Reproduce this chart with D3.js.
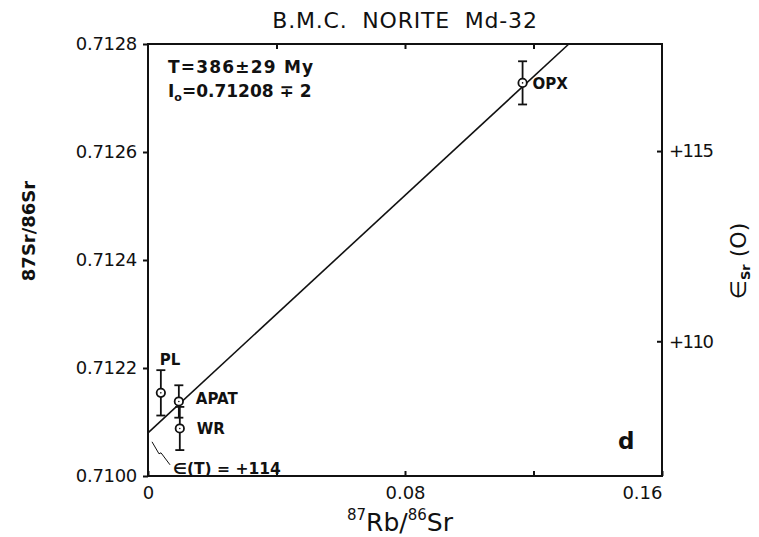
<!DOCTYPE html>
<html>
<head>
<meta charset="utf-8">
<script src="https://cdn.jsdelivr.net/npm/d3@7"></script>
<style>
  html, body { margin: 0; padding: 0; background: #fff; }
  svg { display: block; }
  text { font-family: "DejaVu Sans", "Liberation Sans", sans-serif; fill: #111; }
</style>
</head>
<body>
<svg id="chart" width="759" height="537"></svg>
<script>
// Rb-Sr mineral isochron, B.M.C. norite Md-32
const samples = ["PL", "APAT", "WR", "OPX"];
const rbSr    = [0.0040, 0.0096, 0.0099, 0.1166];          // 87Rb/86Sr
const srSr    = [0.712154, 0.712138, 0.712088, 0.712728]; // 87Sr/86Sr
const srErr   = [0.000042, 0.000030, 0.000040, 0.000040];

const xTicks      = [0, 0.04, 0.08, 0.12, 0.16];
const xTickLabels = ["0", "", "0.08", "", "0.16"];
const yTicks      = [0.7120, 0.7122, 0.7124, 0.7126, 0.7128];
const yTickLabels = ["0.7100", "0.7122", "0.7124", "0.7126", "0.7128"];
const epsTicks    = [110, 115];
const epsTickLabels = ["+110", "+115"];

const ageMy    = 386;      // isochron age
const initSr   = 0.71208;  // initial ratio
const lambdaRb = 1.42e-11; // 87Rb decay constant, 1/yr
const urSr     = 0.7045;   // bulk-earth 87Sr/86Sr today, for epsilon

const svg = d3.select("#chart");
const m = { left: 148, right: 662, top: 44, bottom: 476 };

const x = d3.scaleLinear().domain([0, 0.16]).range([m.left, m.right]);
const y = d3.scaleLinear().domain([0.7120, 0.7128]).range([m.bottom, m.top]);
const eps = r => (r / urSr - 1) * 1e4;
const yEps = d3.scaleLinear().domain([eps(0.7120), eps(0.7128)]).range([m.bottom, m.top]);

// frame
svg.append("rect")
  .attr("x", m.left).attr("y", m.top)
  .attr("width", m.right - m.left).attr("height", m.bottom - m.top)
  .attr("fill", "none").attr("stroke", "#111").attr("stroke-width", 2);

function styleAxis(g, size) {
  g.select(".domain").remove();
  g.selectAll(".tick line").attr("stroke", "#111").attr("stroke-width", 2);
  g.selectAll(".tick text").attr("font-size", size).attr("fill", "#111")
    .attr("font-family", "DejaVu Sans, sans-serif");
}

// left axis
svg.append("g")
  .attr("transform", `translate(${m.left},0)`)
  .call(d3.axisLeft(y).tickValues(yTicks).tickFormat((d, i) => yTickLabels[i])
        .tickSizeInner(5).tickSizeOuter(0).tickPadding(6))
  .call(g => styleAxis(g, 18))
  .call(g => g.selectAll(".tick text").attr("letter-spacing", -0.3));

// bottom axis, ticks pointing inward
const xb = svg.append("g")
  .attr("transform", `translate(0,${m.bottom})`)
  .call(d3.axisBottom(x).tickValues(xTicks).tickFormat((d, i) => xTickLabels[i])
        .tickSizeInner(-5).tickSizeOuter(0).tickPadding(10))
  .call(g => styleAxis(g, 18));
xb.selectAll(".tick text").filter(d => d === 0.16).attr("text-anchor", "end").attr("dx", 0);

// top axis, ticks only
svg.append("g")
  .attr("transform", `translate(0,${m.top})`)
  .call(d3.axisTop(x).tickValues(xTicks.slice(1, -1)).tickFormat("")
        .tickSizeInner(-5).tickSizeOuter(0))
  .call(g => styleAxis(g, 0));

// right axis: epsilon Sr(0)
svg.append("g")
  .attr("transform", `translate(${m.right},0)`)
  .call(d3.axisRight(yEps).tickValues(epsTicks).tickFormat((d, i) => epsTickLabels[i])
        .tickSizeInner(-5).tickSizeOuter(0).tickPadding(7))
  .call(g => styleAxis(g, 18))
  .call(g => g.selectAll(".tick text").attr("letter-spacing", -1.5));

// isochron
const slope = Math.expm1(lambdaRb * ageMy * 1e6);
const xEnd = Math.min(0.16, (0.7128 - initSr) / slope);
svg.append("line")
  .attr("x1", x(0)).attr("y1", y(initSr))
  .attr("x2", x(xEnd)).attr("y2", y(initSr + slope * xEnd))
  .attr("stroke", "#111").attr("stroke-width", 1.6);

// error bars and points
const pts = svg.append("g");
samples.forEach((s, i) => {
  const cx = x(rbSr[i]);
  const g = pts.append("g").attr("stroke", "#111").attr("stroke-width", 1.8).attr("fill", "none");
  const top = y(srSr[i] + srErr[i]), bot = y(srSr[i] - srErr[i]);
  g.append("line").attr("x1", cx).attr("x2", cx).attr("y1", top).attr("y2", bot);
  g.append("line").attr("x1", cx - 4.5).attr("x2", cx + 4.5).attr("y1", top).attr("y2", top);
  g.append("line").attr("x1", cx - 4.5).attr("x2", cx + 4.5).attr("y1", bot).attr("y2", bot);
  g.append("circle").attr("cx", cx).attr("cy", y(srSr[i])).attr("r", 4.2)
    .attr("fill", "#fff");
  g.append("circle").attr("cx", cx).attr("cy", y(srSr[i])).attr("r", 0.8)
    .attr("fill", "#111").attr("stroke", "none");
});

// sample labels
const labelOffsets = { PL: [-1, -28], APAT: [17, 3], WR: [17, 6], OPX: [10, 6] };
samples.forEach((s, i) => {
  const [dx, dy] = labelOffsets[s];
  svg.append("text")
    .attr("x", x(rbSr[i]) + dx).attr("y", y(srSr[i]) + dy)
    .attr("font-size", 15).attr("font-weight", "bold")
    .text(s);
});

// title
svg.append("text")
  .attr("x", 405).attr("y", 28).attr("text-anchor", "middle")
  .attr("font-size", 22).attr("letter-spacing", 0.8).attr("word-spacing", 7)
  .text("B.M.C.  NORITE  Md-32");

// age and initial ratio
svg.append("text").attr("x", 168).attr("y", 73)
  .attr("font-size", 17).attr("font-weight", "bold").attr("letter-spacing", 1.2)
  .text("T=386±29 My");
const iLine = svg.append("text").attr("x", 168).attr("y", 97)
  .attr("font-size", 17).attr("font-weight", "bold");
iLine.append("tspan").text("I");
iLine.append("tspan").attr("font-size", 11).attr("dy", 4).text("o");
iLine.append("tspan").attr("dy", -4).text("=0.71208 ∓ 2");

// epsilon(T) leader and label
const ix = x(0), iy = y(initSr);
svg.append("path")
  .attr("d", `M${ix + 4},${iy + 9} L${ix + 11},${iy + 21} L${ix + 13},${iy + 20} L${ix + 22},${iy + 32}`)
  .attr("fill", "none").attr("stroke", "#111").attr("stroke-width", 1);
svg.append("text").attr("x", ix + 25).attr("y", iy + 41)
  .attr("font-size", 15.5).attr("font-weight", "bold")
  .text("∈(T) = +114");

// panel letter
svg.append("text").attr("x", 618).attr("y", 449)
  .attr("font-size", 23).attr("font-weight", "bold").text("d");

// x axis title
const xt = svg.append("text").attr("x", 400).attr("y", 531).attr("text-anchor", "middle")
  .attr("font-size", 25);
xt.append("tspan").attr("font-size", 15).attr("dy", -11).text("87");
xt.append("tspan").attr("dy", 11).text("Rb/");
xt.append("tspan").attr("font-size", 15).attr("dy", -11).text("86");
xt.append("tspan").attr("dy", 11).text("Sr");

// y axis title
svg.append("text")
  .attr("transform", "translate(35,231) rotate(-90)")
  .attr("text-anchor", "middle").attr("font-size", 18).attr("font-weight", "bold")
  .text("87Sr/86Sr");

// right axis title
const rt = svg.append("text")
  .attr("transform", "translate(746,261) rotate(-90)")
  .attr("text-anchor", "middle").attr("font-size", 22);
rt.append("tspan").text("∈");
rt.append("tspan").attr("font-size", 13).attr("dy", 4).attr("font-weight", "bold").text("Sr");
rt.append("tspan").attr("dy", -4).text(" (O)");
</script>
</body>
</html>
